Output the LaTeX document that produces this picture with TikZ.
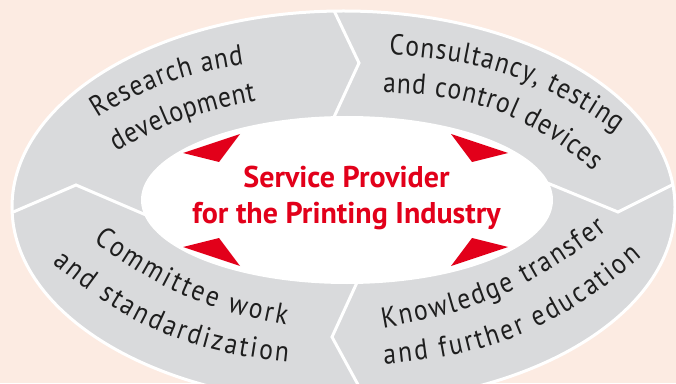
\documentclass[tikz,border=0pt]{standalone}
\usepackage{fontspec}
\setmainfont{PT Sans}
\newfontfamily\ringfont{PT Sans}[FakeStretch=0.88]
\newfontfamily\centerfont{PT Sans}[UprightFont=* Bold]
\usetikzlibrary{decorations.text}
\definecolor{bgpeach}{HTML}{FCEBE2}
\definecolor{ringgrey}{HTML}{D9DADC}
\definecolor{markred}{HTML}{E2001A}
\definecolor{ringtext}{HTML}{1E1E1E}
\tikzset{
  divider/.style={draw=white, line width=3pt, line join=miter},
  redtip/.style={fill=markred},
  centertext/.style={text=markred, font=\centerfont\fontsize{30}{30}\selectfont, anchor=base, inner sep=0pt},
  ringline/.style={decorate, decoration={text along path, text align={fit to path}, text color=ringtext, text format delimiters={|}{|}}}
}
\newcommand{\rf}{|\ringfont\fontsize{29}{29}\selectfont|}
\begin{document}
\begin{tikzpicture}[x=1pt,y=1pt]
\useasboundingbox (0,0) rectangle (676,383);
\clip (0,0) rectangle (676,383);
\fill[bgpeach] (0,0) rectangle (676,383);
% ring
\coordinate (oc) at (343.5,176);
\coordinate (ic) at (347,183);
\fill[ringgrey] (oc) ellipse[x radius=331.5, y radius=196];
\begin{scope}
\clip (oc) ellipse[x radius=331.5, y radius=196];
\coordinate (l1) at (-10,161); \coordinate (l2) at (76,198); \coordinate (l3) at (160,162);
\coordinate (t1) at (328,385); \coordinate (t2) at (359,320); \coordinate (t3) at (328,253);
\coordinate (r1) at (690,207); \coordinate (r2) at (618,171); \coordinate (r3) at (540,203);
\coordinate (b1) at (365,118); \coordinate (b2) at (332,46); \coordinate (b3) at (368,-20);
\draw[divider] (l1) -- (l2) -- (l3);
\draw[divider] (t1) -- (t2) -- (t3);
\draw[divider] (r1) -- (r2) -- (r3);
\draw[divider] (b1) -- (b2) -- (b3);
\end{scope}
\draw[white, line width=3pt] (oc) ellipse[x radius=331.5, y radius=196];
\fill[white] (ic) ellipse[x radius=206, y radius=84];
% red tips
\fill[redtip] (183,230) -- (240,249) -- (219,221) -- cycle;
\fill[redtip] (508,230) -- (451,249) -- (472,221) -- cycle;
\fill[redtip] (183,136) -- (240,117) -- (219,145) -- cycle;
\fill[redtip] (508,136) -- (451,117) -- (472,145) -- cycle;
% centre text
\node[centertext] (svc1) at (346.5,195) {Service Provider};
\node[centertext] (svc2) at (346.5,160) {for the Printing Industry};
% ring text
\coordinate (ra1) at (98,265); \coordinate (ra2) at (244,318);
\coordinate (rb1) at (117,231); \coordinate (rb2) at (256,282);
\coordinate (ca1) at (389,328); \coordinate (ca2) at (617,251);
\coordinate (cb1) at (383,290); \coordinate (cb2) at (594,212);
\coordinate (ma1) at (94,142); \coordinate (ma2) at (286,58);
\coordinate (mb1) at (53,120); \coordinate (mb2) at (288,21);
\coordinate (ka1) at (383,55); \coordinate (ka2) at (607,153);
\coordinate (kb1) at (384,19); \coordinate (kb2) at (642,126);
\path[ringline, decoration={text={\rf Research and}}] (ra1) to[bend left=12] (ra2);
\path[ringline, decoration={text={\rf development}}] (rb1) to[bend left=10] (rb2);
\path[ringline, decoration={text={\rf Consultancy, testing}}] (ca1) to[bend left=16] (ca2);
\path[ringline, decoration={text={\rf and control devices}}] (cb1) to[bend left=20] (cb2);
\path[ringline, decoration={text={\rf Committee work}}] (ma1) to[bend right=13] (ma2);
\path[ringline, decoration={text={\rf and standardization}}] (mb1) to[bend right=17] (mb2);
\path[ringline, decoration={text={\rf Knowledge transfer}}] (ka1) to[bend right=14] (ka2);
\path[ringline, decoration={text={\rf and further education}}] (kb1) to[bend right=18] (kb2);
\end{tikzpicture}
\end{document}
